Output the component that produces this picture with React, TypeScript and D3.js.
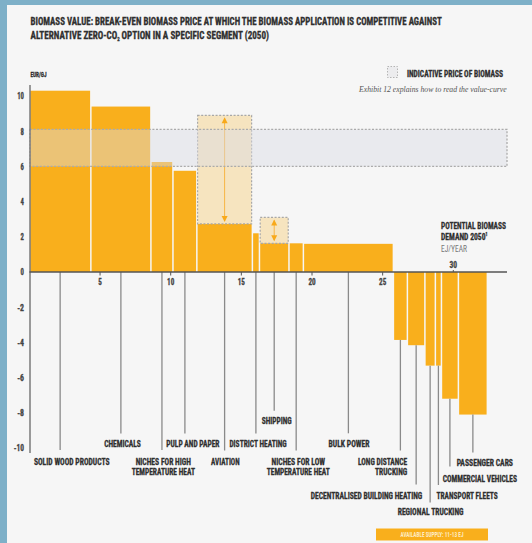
import React from "react";
import * as d3 from "d3";

// ---------- data ----------
const sectorLabels: string[][] = [
  ["SOLID WOOD PRODUCTS"],
  ["CHEMICALS"],
  ["NICHES FOR HIGH", "TEMPERATURE HEAT"],
  ["PULP AND PAPER"],
  ["AVIATION"],
  ["DISTRICT HEATING"],
  ["SHIPPING"],
  ["NICHES FOR LOW", "TEMPERATURE HEAT"],
  ["BULK POWER"],
  ["LONG DISTANCE", "TRUCKING"],
  ["DECENTRALISED BUILDING HEATING"],
  ["REGIONAL TRUCKING"],
  ["TRANSPORT FLEETS"],
  ["COMMERCIAL VEHICLES"],
  ["PASSENGER CARS"],
];
// potential biomass demand 2050 (EJ/year) – bar widths
const demandEJ = [4.35, 4.25, 1.56, 1.69, 3.93, 0.5, 2.09, 1.02, 6.37, 0.99, 1.24, 0.74, 0.43, 1.2, 2.05];
// break-even biomass price (EUR/GJ) – bar heights
const breakEven = [10.3, 9.4, 6.25, 5.75, 2.73, 2.2, 1.63, 1.63, 1.6, -3.86, -4.16, -5.32, -5.32, -7.2, -8.1];
// uncertainty ranges (sector index, low, high)
const rangeSector = [4, 6];
const rangeLow = [2.73, 1.63];
const rangeHigh = [8.9, 3.1];
// indicative price of biomass band
const priceBand = [6, 8.1];
const yTicks = [-10, -8, -6, -4, -2, 0, 2, 4, 6, 8, 10];
const xTicksBelow = [5, 10, 15, 20, 25];
const xTicksAbove = [30];
const xMax = 33.8;

// ---------- layout (pixels) ----------
type Lay = { anchor: "start" | "middle" | "end"; x: number; y: number; lineEnd: number; widths: number[] };
const labelLayout: Lay[] = [
  { anchor: "start", x: 33.9, y: 461, lineEnd: 450, widths: [75.7] },
  { anchor: "middle", x: 122.5, y: 443.5, lineEnd: 433.5, widths: [36.7] },
  { anchor: "middle", x: 163.3, y: 461, lineEnd: 450, widths: [55.3, 63.3] },
  { anchor: "start", x: 166.3, y: 443.5, lineEnd: 433.5, widths: [53.2] },
  { anchor: "middle", x: 225.3, y: 461, lineEnd: 450.5, widths: [28.6] },
  { anchor: "start", x: 229.4, y: 443.2, lineEnd: 433.6, widths: [57.3] },
  { anchor: "start", x: 261.7, y: 420.7, lineEnd: 410.7, widths: [30] },
  { anchor: "middle", x: 298.3, y: 461, lineEnd: 450.5, widths: [53.5, 63.1] },
  { anchor: "middle", x: 349, y: 443.5, lineEnd: 433.3, widths: [41] },
  { anchor: "end", x: 407.2, y: 461, lineEnd: 450.5, widths: [49.2, 32.2] },
  { anchor: "end", x: 422.3, y: 495.3, lineEnd: 484.5, widths: [111.5] },
  { anchor: "middle", x: 430.6, y: 511.6, lineEnd: 502.5, widths: [65.8] },
  { anchor: "start", x: 436.5, y: 495.3, lineEnd: 485, widths: [61.3] },
  { anchor: "start", x: 442.8, y: 478.7, lineEnd: 466.5, widths: [74.2] },
  { anchor: "start", x: 456.7, y: 462, lineEnd: 452.5, widths: [56.3] },
];

const FONT = "'Roboto Condensed','Liberation Sans Narrow','DejaVu Sans Condensed',Roboto,sans-serif";
const ORANGE = "#F9AF1C";
const DARK = "#2f2f2f";

const W = 532;
const H = 543;

type TP = {
  x: number; y: number; w?: number; anchor?: "start" | "middle" | "end"; size?: number;
  weight?: number; fill?: string; family?: string; italic?: boolean; heavy?: boolean; children: React.ReactNode;
};
function T({ x, y, w, anchor = "start", size = 9.8, weight = 700, fill = DARK, family = FONT, italic = false, heavy = true, children }: TP) {
  return (
    <text
      x={x}
      y={y}
      textAnchor={anchor}
      fontSize={size}
      fontWeight={weight}
      fontStyle={italic ? "italic" : "normal"}
      fontFamily={family}
      fill={fill}
      stroke={heavy && weight >= 700 ? fill : "none"}
      strokeWidth={heavy && weight >= 700 ? 0.3 : 0}
      {...(w ? { textLength: w, lengthAdjust: "spacingAndGlyphs" } : {})}
    >
      {children}
    </text>
  );
}

export default function App() {
  const x = d3.scaleLinear().domain([0, xMax]).range([29.4, 507]);
  const y = d3.scaleLinear().domain([-10, 10]).range([448, 96]);
  const starts = d3.cumsum([0, ...demandEJ.slice(0, -1)]);
  const bars = demandEJ.map((w, i) => {
    const s = starts[i];
    const e = s + w;
    const v = breakEven[i];
    return { i, s, e, v, cx: x((s + e) / 2) };
  });
  const y0 = y(0);
  const gap = 0.75;
  const dash = "2,1.6";

  return (
    <svg width={W} height={H} style={{ position: "absolute", left: 0, top: 0 }}>
      <rect x={0} y={0} width={W} height={H} fill="#7eb0c8" />
      <rect x={7} y={5} width={W - 7} height={H - 5} fill="#f6f6f6" />

      {/* title */}
      <T x={30.5} y={24.6} w={411.3} size={10.6}>
        BIOMASS VALUE: BREAK-EVEN BIOMASS PRICE AT WHICH THE BIOMASS APPLICATION IS COMPETITIVE AGAINST
      </T>
      <text
        x={30.5}
        y={38.5}
        fontSize={10.6}
        fontWeight={700}
        fontFamily={FONT}
        fill={DARK}
        stroke={DARK}
        strokeWidth={0.3}
        textLength={238.5}
        lengthAdjust="spacingAndGlyphs"
      >
        ALTERNATIVE ZERO-CO<tspan fontSize={5.5} baselineShift="-2">2</tspan> OPTION IN A SPECIFIC SEGMENT (2050)
      </text>

      <T x={30.5} y={76.5} w={16} size={8}>EUR/GJ</T>

      {/* legend */}
      <rect x={387.5} y={66.5} width={10} height={11} fill="#ececee" stroke="#b4b4b4" strokeWidth={1} strokeDasharray="1.5,1.5" />
      <T x={407} y={76.5} w={96} size={8.6}>INDICATIVE PRICE OF BIOMASS</T>

      <T x={506.7} y={92} w={147.7} anchor="end" size={8.5} weight={400} italic family="'Liberation Serif','DejaVu Serif',serif" fill="#555">
        Exhibit 12 explains how to read the value-curve
      </T>

      {/* bars */}
      {bars.map((b) => (
        <rect
          key={b.i}
          x={x(b.s) + gap}
          width={x(b.e) - x(b.s) - 2 * gap}
          y={Math.min(y(b.v), y0)}
          height={Math.abs(y(b.v) - y0)}
          fill={ORANGE}
        />
      ))}

      {/* ranges */}
      {rangeSector.map((si, k) => {
        const b = bars[si];
        const x1 = x(b.s) + gap;
        const x2 = x(b.e) - gap;
        const top = y(rangeHigh[k]);
        const bot = y(rangeLow[k]);
        const cx = (x1 + x2) / 2;
        const ah = 6;
        const aw = 3;
        return (
          <g key={si}>
            <rect x={x1} y={top} width={x2 - x1} height={bot - top} fill={ORANGE} fillOpacity={0.25} stroke="#a8a8a8" strokeWidth={1.2} strokeDasharray={dash} />
            <line x1={cx} x2={cx} y1={top + 3} y2={bot - 3} stroke="#f7b545" strokeWidth={1} />
            <path d={`M${cx},${top + 2} L${cx - aw},${top + 2 + ah} L${cx + aw},${top + 2 + ah} Z`} fill="#f8a91a" />
            <path d={`M${cx},${bot - 2} L${cx - aw},${bot - 2 - ah} L${cx + aw},${bot - 2 - ah} Z`} fill="#f8a91a" />
          </g>
        );
      })}

      {/* price band */}
      <rect
        x={x(0) + 0.6}
        y={y(priceBand[1])}
        width={x(xMax) - x(0) - 0.6}
        height={y(priceBand[0]) - y(priceBand[1])}
        fill="#d9dce5"
        fillOpacity={0.45}
        stroke="#ababab"
        strokeWidth={1.3}
        strokeDasharray={dash}
      />

      {/* leader lines */}
      {bars.map((b) => (
        <line
          key={b.i}
          x1={b.cx}
          x2={b.cx}
          y1={b.v < 0 ? y(b.v) : y0}
          y2={labelLayout[b.i].lineEnd}
          stroke="#8a8a8a"
          strokeWidth={1.3}
        />
      ))}

      {/* axes */}
      <line x1={30} x2={30} y1={85} y2={453} stroke="#7a7a7a" strokeWidth={1.5} />
      <line x1={29.4} x2={x(xMax)} y1={y0} y2={y0} stroke="#555" strokeWidth={1.5} />
      {xTicksBelow.map((t) => (
        <g key={t}>
          <line x1={x(t)} x2={x(t)} y1={y0} y2={y0 + 3.5} stroke="#555" strokeWidth={1} />
          <T x={x(t)} y={285.2} anchor="middle" size={9.2} w={String(t).length * 3.6} fill="#444">
            {t}
          </T>
        </g>
      ))}
      {xTicksAbove.map((t) => (
        <g key={t}>
          <line x1={x(t)} x2={x(t)} y1={y0} y2={y0 - 2} stroke="#555" strokeWidth={1} />
          <T x={x(t)} y={267.5} anchor="middle" size={9.2} w={String(t).length * 3.8} fill="#444">
            {t}
          </T>
        </g>
      ))}
      {yTicks.map((t) => (
        <T key={t} x={24} y={y(t) + 3.4} anchor="end" size={9.2} w={String(t).length * 3.4} fill="#444">
          {t}
        </T>
      ))}

      {/* potential demand label */}
      <T x={441} y={228.5} w={65} size={9.8}>POTENTIAL BIOMASS</T>
      <T x={441} y={240.2} w={46.5} size={9.8}>
        DEMAND 2050<tspan fontSize={5} baselineShift="4">1</tspan>
      </T>
      <T x={441} y={251.9} w={26} size={9.8} weight={400} fill="#777">EJ/YEAR</T>

      {/* sector labels */}
      {sectorLabels.map((lines, i) => {
        const L = labelLayout[i];
        return lines.map((s, j) => (
          <T key={`${i}-${j}`} x={L.x} y={L.y + 3.5 + j * 10.6} anchor={L.anchor} w={L.widths[j]} size={9.8}>
            {s}
          </T>
        ));
      })}

      {/* available supply */}
      <rect x={376} y={528.5} width={112} height={12} fill={ORANGE} />
      <T x={432} y={537} anchor="middle" w={63} size={6.4} fill="#fdebc4" heavy={false}>AVAILABLE SUPPLY: 11-13 EJ</T>
    </svg>
  );
}
